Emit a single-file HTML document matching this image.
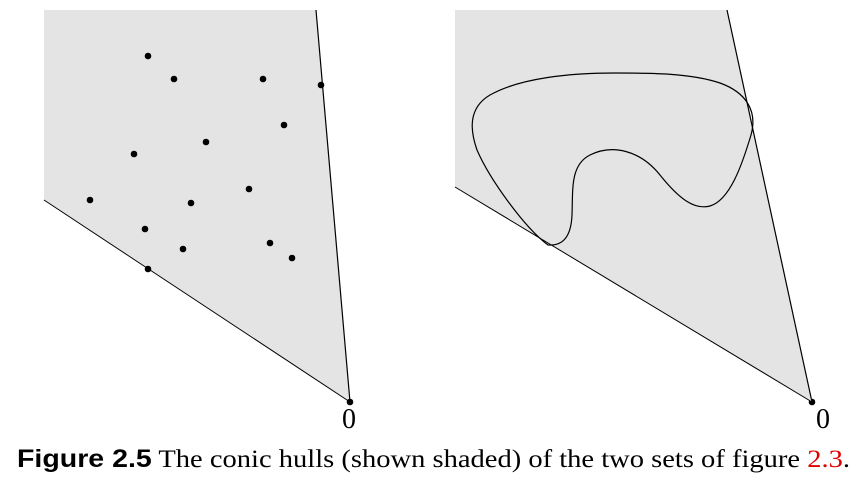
<!DOCTYPE html>
<html><head><meta charset="utf-8"><style>
html,body{margin:0;padding:0;background:#fff;width:863px;height:481px;overflow:hidden}
</style></head><body>
<svg width="863" height="481" viewBox="0 0 863 481" xmlns="http://www.w3.org/2000/svg">
<polygon points="44,10 316,10 350,402 44,200" fill="#e4e4e4"/>
<line x1="316" y1="10" x2="350" y2="402" stroke="#000" stroke-width="1.2"/>
<line x1="44" y1="200" x2="350" y2="402" stroke="#000" stroke-width="1"/>
<g fill="#000">
<circle cx="148" cy="56" r="3.3"/><circle cx="174" cy="79" r="3.3"/><circle cx="263" cy="79" r="3.3"/>
<circle cx="321" cy="85" r="3.3"/><circle cx="284" cy="125" r="3.3"/><circle cx="206" cy="142" r="3.3"/>
<circle cx="134" cy="154" r="3.3"/><circle cx="249" cy="189" r="3.3"/><circle cx="90" cy="200" r="3.3"/>
<circle cx="191" cy="203" r="3.3"/><circle cx="145" cy="229" r="3.3"/><circle cx="270" cy="243" r="3.3"/>
<circle cx="183" cy="249" r="3.3"/><circle cx="292" cy="258" r="3.3"/><circle cx="148" cy="269" r="3.3"/>
<circle cx="350" cy="402" r="3.3"/><circle cx="812" cy="402" r="3.3"/>
</g>
<polygon points="455,10 727,10 812,402 455,187" fill="#e4e4e4"/>
<line x1="727" y1="10" x2="812" y2="402" stroke="#000" stroke-width="1.2"/>
<line x1="455" y1="187" x2="812" y2="402" stroke="#000" stroke-width="1"/>
<path d="M548,245 C562,246 571,238 572,215 C573,190 570,165 590,155 C612,144 640,150 660,175 C680,200 695,210 710,206 C730,200 742,165 751,135 C758,110 745,92 720,83 C690,73 650,73 615,73 C570,73 520,78 490,95 C468,108 470,130 477,150 C490,180 525,228 548,245 Z" fill="none" stroke="#000" stroke-width="1.2"/>
<text x="342" y="428" font-family="Liberation Serif, serif" font-size="28">0</text>
<text x="816" y="428" font-family="Liberation Serif, serif" font-size="28">0</text>
<text x="17" y="467" font-family="Liberation Serif, serif" font-size="25" textLength="833" lengthAdjust="spacingAndGlyphs"><tspan font-family="Liberation Sans Narrow, Liberation Sans, sans-serif" font-weight="bold">Figure 2.5</tspan> The conic hulls (shown shaded) of the two sets of figure <tspan fill="#e00000">2.3</tspan>.</text>
</svg>
</body></html>
